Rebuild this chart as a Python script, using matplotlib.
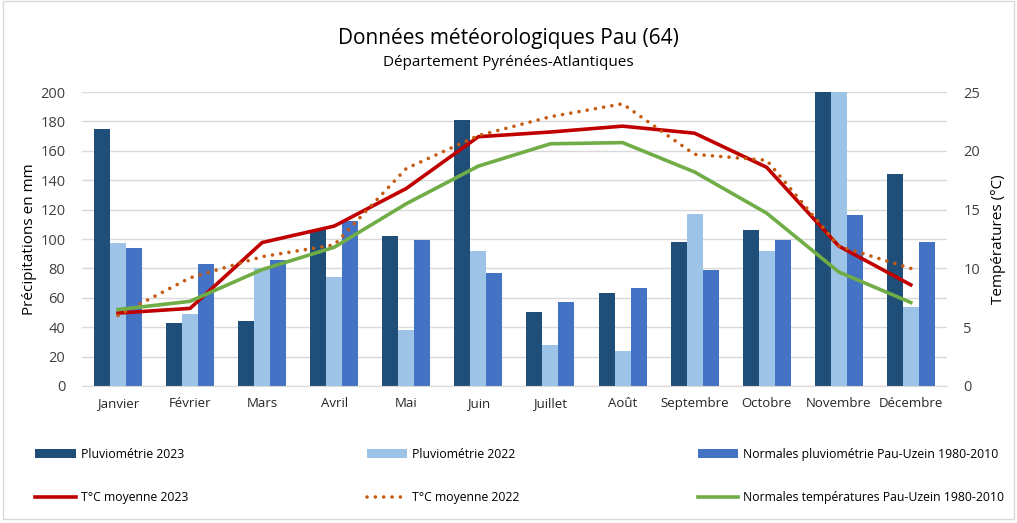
import numpy as np
import matplotlib
matplotlib.use("Agg")
from matplotlib import pyplot as plt
from matplotlib.patches import Rectangle

plt.rcParams['font.family'] = ['Open Sans', 'DejaVu Sans']

mois = ['Janvier', 'Février', 'Mars', 'Avril', 'Mai', 'Juin', 'Juillet',
        'Août', 'Septembre', 'Octobre', 'Novembre', 'Décembre']

# precipitations (mm)
pluie_2023 = [175, 43, 44, 106, 102, 181, 50, 63, 98, 106, 260, 144]
pluie_2022 = [97, 49, 80, 74, 38, 92, 28, 24, 117, 92, 230, 54]
pluie_normales = [94, 83, 86, 112, 99, 77, 57, 67, 79, 99, 116, 98]

# temperatures (°C)
temp_2023 = [6.2, 6.6, 12.2, 13.6, 16.8, 21.2, 21.6, 22.1, 21.5, 18.6, 11.9, 8.6]
temp_2022 = [6.0, 9.2, 11.0, 12.0, 18.5, 21.3, 22.9, 24.0, 19.7, 19.2, 11.9, 10.0]
temp_normales = [6.5, 7.2, 9.9, 11.8, 15.5, 18.7, 20.6, 20.7, 18.2, 14.7, 9.7, 7.1]

fig = plt.figure(figsize=(10.17, 5.23), dpi=100)
ax = fig.add_axes([0.0806, 0.262, 0.8504, 0.562])

x = np.arange(len(mois))
w = 0.222
b1 = ax.bar(x - w, pluie_2023, w, color='#1F4E79', zorder=2, label='Pluviométrie 2023')
b2 = ax.bar(x, pluie_2022, w, color='#9DC3E6', zorder=2, label='Pluviométrie 2022')
b3 = ax.bar(x + w, pluie_normales, w, color='#4472C4', zorder=2,
            label='Normales pluviométrie Pau-Uzein 1980-2010')

ax.set_ylim(0, 200)
ax.set_xlim(-0.5, 11.5)
ax.set_yticks(range(0, 201, 20))
ax.set_xticks(x)
ax.set_xticklabels(mois, fontsize=9.5)
ax.tick_params(axis='y', labelsize=10.5, length=0, pad=12, colors='#404040')
ax.tick_params(axis='x', length=0, pad=8, colors='#262626')
ax.grid(axis='y', color='#D9D9D9', linewidth=1, zorder=0)
for s in ['top', 'right', 'left']:
    ax.spines[s].set_visible(False)
ax.spines['bottom'].set_color('#D9D9D9')
ax.set_ylabel('Précipitations en mm', fontsize=11, labelpad=2)

ax2 = ax.twinx()
l1, = ax2.plot(x, temp_2023, color='#C00000', linewidth=2.6, label='T°C moyenne 2023')
l2, = ax2.plot(x, temp_2022, color='#C55A11', linewidth=2.6,
               linestyle=(0, (0.01, 2.3)), dash_capstyle='round', label='T°C moyenne 2022')
l3, = ax2.plot(x, temp_normales, color='#70AD47', linewidth=2.6,
               label='Normales températures Pau-Uzein 1980-2010')
ax2.set_ylim(0, 25)
ax2.set_yticks(range(0, 26, 5))
ax2.tick_params(axis='y', labelsize=10.5, length=0, pad=12, colors='#404040')
for s in ['top', 'right', 'left', 'bottom']:
    ax2.spines[s].set_visible(False)
ax2.set_ylabel('Températures (°C)', fontsize=11, labelpad=8)

fig.text(0.5, 0.927, 'Données météorologiques Pau (64)', ha='center', va='center',
         fontsize=15, color='#000000')
fig.text(0.5, 0.881, 'Département Pyrénées-Atlantiques', ha='center', va='center',
         fontsize=11, color='#000000')

handles = [b1, l1, b2, l2, b3, l3]
labels = [h.get_label() for h in handles]
fig.legend(handles, labels, ncol=3, mode='expand', loc='center left',
           bbox_to_anchor=(0.03, 0.09, 0.962, 0.0), frameon=False, fontsize=8.8,
           labelspacing=2.5, handlelength=3.3, handletextpad=0.4, borderaxespad=0)

fig.add_artist(Rectangle((0.003, 0.008), 0.994, 0.99, transform=fig.transFigure,
                         fill=False, edgecolor='#D9D9D9', linewidth=1))

fig.savefig('out.png', dpi=100)
